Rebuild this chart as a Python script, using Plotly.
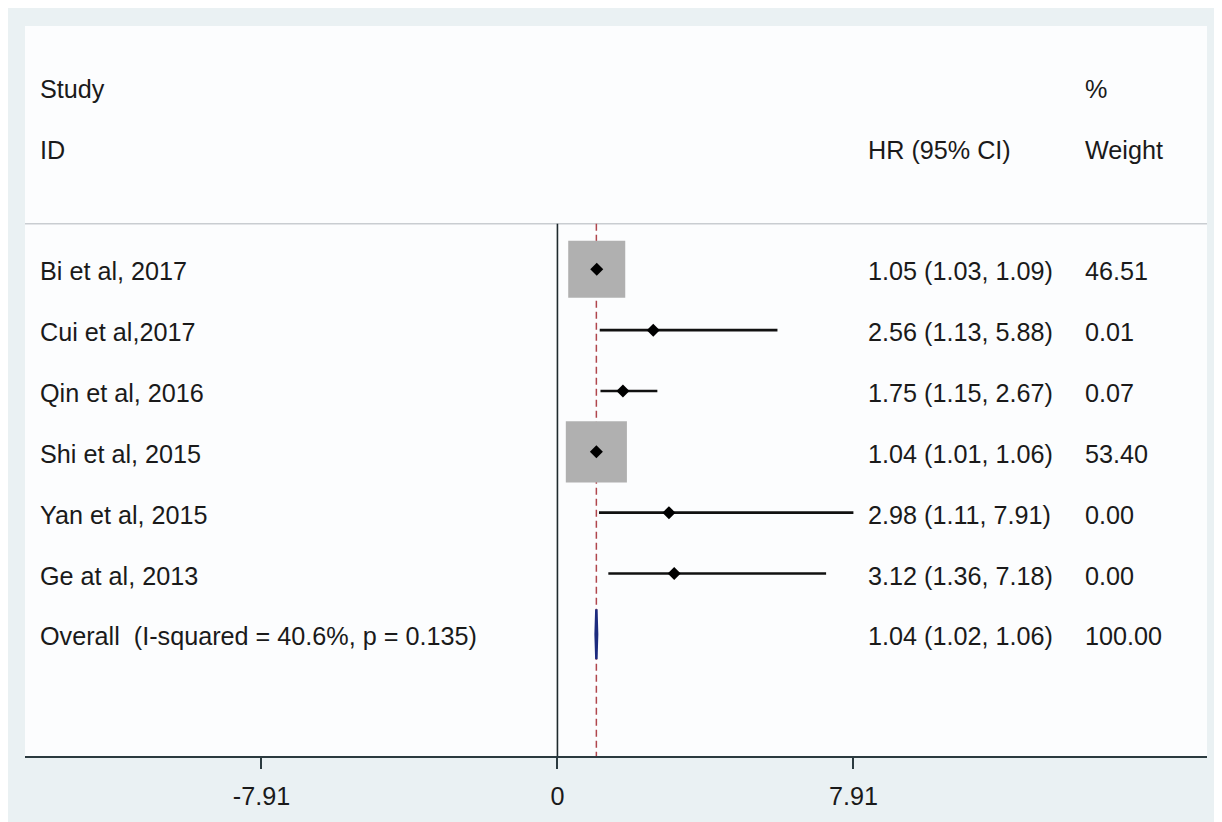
import plotly.graph_objects as go

# ---- data ----
studies = ["Bi et al, 2017", "Cui et al,2017", "Qin et al, 2016", "Shi et al, 2015",
           "Yan et al, 2015", "Ge at al, 2013"]
hr = [1.05, 2.56, 1.75, 1.04, 2.98, 3.12]
ci_low = [1.03, 1.13, 1.15, 1.01, 1.11, 1.36]
ci_high = [1.09, 5.88, 2.67, 1.06, 7.91, 7.18]
weights = [46.51, 0.01, 0.07, 53.40, 0.00, 0.00]

overall_label = "Overall  (I-squared = 40.6%, p = 0.135)"
overall_hr = 1.04
overall_low = 1.02
overall_high = 1.06
overall_weight = 100.00

tick_vals = [-7.91, 0, 7.91]
tick_text = ["-7.91", "0", "7.91"]

# ---- styling ----
FONT = "Liberation Sans, Arial, sans-serif"
FS = 25.2
TXT = "#1a1a1a"
rows = list(range(1, len(studies) + 1))
overall_row = len(studies) + 1

x_left_text = -13.88
x_hr_text = 8.24
x_w_text = 14.05

fig = go.Figure()

# weight boxes
fig.add_trace(go.Scatter(
    x=hr, y=rows, mode="markers",
    marker=dict(symbol="square", size=[8.36 * (w ** 0.5) for w in weights],
                color="#B0B0B0", opacity=1, line=dict(width=0)),
    hoverinfo="skip", showlegend=False))

# CI lines
for r, lo, hi in zip(rows, ci_low, ci_high):
    fig.add_trace(go.Scatter(x=[lo, hi], y=[r, r], mode="lines",
                             line=dict(color="#111111", width=2.6),
                             hoverinfo="skip", showlegend=False))

# point estimates
fig.add_trace(go.Scatter(
    x=hr, y=rows, mode="markers",
    marker=dict(symbol="diamond", size=10, color="#000000"),
    hoverinfo="skip", showlegend=False))

# overall diamond
h = 0.41
fig.add_trace(go.Scatter(
    x=[overall_low, overall_hr, overall_high, overall_hr, overall_low],
    y=[overall_row, overall_row - h, overall_row, overall_row + h, overall_row],
    mode="lines", fill="toself", fillcolor="#1C2B7E",
    line=dict(color="#1C2B7E", width=2.5),
    hoverinfo="skip", showlegend=False))

shapes = []
# zero line
shapes.append(dict(type="line", xref="x", yref="y", x0=0, x1=0, y0=0.25, y1=9,
                   line=dict(color="#1f2a2e", width=1.6), layer="below"))
# overall dashed line
shapes.append(dict(type="line", xref="x", yref="y", x0=overall_hr, x1=overall_hr,
                   y0=0.25, y1=9, line=dict(color="#B0464D", width=1.5, dash="7px,4px"),
                   layer="below"))
# header separator
shapes.append(dict(type="line", xref="paper", yref="y", x0=0, x1=1, y0=0.25, y1=0.25,
                   line=dict(color="#C9CDD1", width=1.5), layer="below"))

ann = []
def add_text(x, y, t):
    ann.append(dict(x=x, y=y, xref="x", yref="y", text=t, showarrow=False,
                    xanchor="left", yanchor="middle", yshift=-2,
                    font=dict(family=FONT, size=FS, color=TXT)))

add_text(x_left_text, -2, "Study")
add_text(x_left_text, -1, "ID")
add_text(x_hr_text, -1, "HR (95% CI)")
add_text(x_w_text, -2, "%")
add_text(x_w_text, -1, "Weight")

for r, s, e, lo, hi, w in zip(rows, studies, hr, ci_low, ci_high, weights):
    add_text(x_left_text, r, s)
    add_text(x_hr_text, r, f"{e:.2f} ({lo:.2f}, {hi:.2f})")
    add_text(x_w_text, r, f"{w:.2f}")

add_text(x_left_text, overall_row, overall_label)
add_text(x_hr_text, overall_row, f"{overall_hr:.2f} ({overall_low:.2f}, {overall_high:.2f})")
add_text(x_w_text, overall_row, f"{overall_weight:.2f}")

fig.update_layout(
    width=1214, height=814, autosize=False,
    margin=dict(l=17, r=15, t=18, b=59),
    paper_bgcolor="#EAF1F3", plot_bgcolor="#FCFDFE",
    shapes=shapes, annotations=ann, showlegend=False,
    xaxis=dict(range=[-14.23, 17.36], tickvals=tick_vals, ticktext=tick_text,
               showgrid=False, zeroline=False, showline=True,
               linecolor="#2B3A3F", linewidth=2, ticks="outside", ticklen=11,
               tickwidth=1.5, tickcolor="#2B3A3F", ticklabelstandoff=6,
               tickfont=dict(family=FONT, size=FS, color=TXT), fixedrange=True),
    yaxis=dict(range=[9, -3], visible=False, fixedrange=True),
)

fig.write_html("out.html")
